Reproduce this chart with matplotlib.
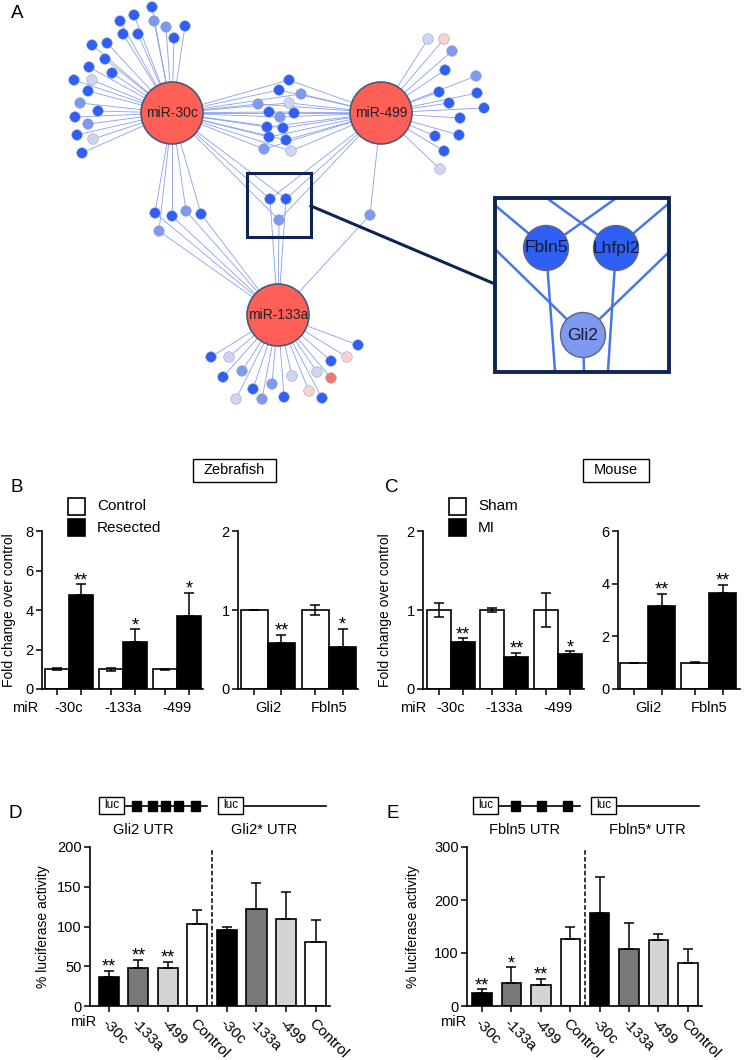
import matplotlib
matplotlib.use('Agg')
import matplotlib.pyplot as plt
from matplotlib.patches import Circle, Rectangle
import numpy as np

plt.rcParams['font.family'] = ['Liberation Sans', 'DejaVu Sans']

# ---------------- data ----------------
hub_names = ['miR-30c', 'miR-499', 'miR-133a']
hub_xy = [(172, 113), (381, 113), (278, 315)]

targets_30c = [(152, 7, 'd'), (134, 15, 'd'), (154, 21, 'm'), (120, 21, 'd'), (166, 27, 'm'),
               (185, 26, 'd'), (123, 34, 'd'), (138, 34, 'd'), (174, 38, 'd'), (92, 45, 'd'),
               (107, 43, 'd'), (105, 59, 'd'), (89, 67, 'd'), (112, 73, 'd'), (74, 80, 'd'),
               (92, 80, 'l'), (88, 91, 'd'), (80, 103, 'm'), (98, 111, 'd'), (75, 117, 'd'),
               (88, 124, 'm'), (77, 135, 'd'), (93, 139, 'l'), (82, 153, 'd')]
targets_30c_499 = [(289, 80, 'd'), (279, 90, 'd'), (301, 94, 'm'), (258, 104, 'm'), (289, 103, 'l'),
                   (269, 112, 'd'), (294, 113, 'd'), (280, 117, 'm'), (267, 127, 'd'), (283, 128, 'd'),
                   (269, 137, 'd'), (286, 140, 'd'), (264, 149, 'm'), (291, 151, 'l')]
targets_all = [(270, 199, 'd'), (286, 199, 'd'), (279, 220, 'm')]
targets_30c_133a = [(155, 213, 'd'), (172, 216, 'd'), (186, 211, 'm'), (201, 214, 'd'), (159, 231, 'm')]
targets_499_133a = [(370, 215, 'm')]
targets_499 = [(428, 39, 'l'), (444, 39, 'p'), (452, 51, 'm'), (445, 70, 'd'), (476, 76, 'm'),
               (439, 92, 'd'), (477, 93, 'd'), (449, 103, 'd'), (484, 108, 'd'), (460, 118, 'd'),
               (459, 135, 'd'), (435, 136, 'd'), (444, 151, 'd'), (440, 169, 'l')]
targets_133a = [(211, 357, 'd'), (229, 357, 'l'), (358, 345, 'd'), (347, 357, 'p'), (331, 361, 'd'),
                (242, 371, 'm'), (223, 377, 'd'), (272, 384, 'm'), (292, 376, 'l'), (317, 372, 'l'),
                (331, 378, 's'), (253, 389, 'd'), (236, 399, 'l'), (262, 399, 'm'), (284, 397, 'd'),
                (309, 391, 'p'), (322, 398, 'd')]

zoom_box = (247, 173, 311, 237)
inset_box = (495, 198, 669, 372)
inset_names = ['Fbln5', 'Lhfpl2', 'Gli2']
inset_xy = [(546, 248), (616, 248), (583, 335)]
inset_shade = ['d', 'd', 'm']
inset_edges = {0: [(497, 207), (615, 199), (555, 371)],
               1: [(548, 199), (668, 204), (608, 371)],
               2: [(497, 251), (668, 253), (584, 371)]}

# Panel B: zebrafish
b_mirs = ['-30c', '-133a', '-499']
b_ctrl = [1.0, 1.0, 1.0]
b_ctrl_err = [0.04, 0.07, 0.02]
b_res = [4.75, 2.38, 3.69]
b_res_err = [0.55, 0.64, 1.18]
b_mir_stars = ['**', '*', '*']
b_genes = ['Gli2', 'Fbln5']
b_gene_ctrl = [1.0, 1.0]
b_gene_ctrl_err = [0.005, 0.06]
b_gene_res = [0.586, 0.535]
b_gene_res_err = [0.094, 0.225]
b_gene_stars = ['**', '*']

# Panel C: mouse
c_mirs = ['-30c', '-133a', '-499']
c_sham = [1.0, 1.0, 1.0]
c_sham_err = [0.09, 0.02, 0.22]
c_mi = [0.60, 0.41, 0.44]
c_mi_err = [0.04, 0.05, 0.035]
c_mir_stars = ['**', '**', '*']
c_genes = ['Gli2', 'Fbln5']
c_gene_sham = [1.0, 1.0]
c_gene_sham_err = [0.0, 0.01]
c_gene_mi = [3.15, 3.63]
c_gene_mi_err = [0.45, 0.32]
c_gene_stars = ['**', '**']

# Panels D / E: luciferase
luc_labels = ['-30c', '-133a', '-499', 'Control', '-30c', '-133a', '-499', 'Control']
luc_colors = ['#000000', '#787878', '#d4d4d4', '#ffffff'] * 2
d_vals = [37, 48.4, 48, 103.5, 96, 122.5, 110, 80.5]
d_errs = [7, 9.6, 7, 17.5, 3, 32.5, 34, 28]
d_stars = ['**', '**', '**', '', '', '', '', '']
e_vals = [24, 42.8, 39.7, 126, 176, 107, 124, 80.6]
e_errs = [7.5, 30, 12, 24, 68, 50, 11, 26.4]
e_stars = ['**', '*', '**', '', '', '', '', '']
gli2_sites_x = [136, 152, 165, 178, 195]
fbln5_sites_x = [515.5, 541.5, 567.5]

# ---------------- figure ----------------
W, H = 752, 1060
fig = plt.figure(figsize=(W / 100, H / 100), dpi=100)
ov = fig.add_axes([0, 0, 1, 1])
ov.set_xlim(0, W)
ov.set_ylim(H, 0)
ov.axis('off')

shade = {'d': '#2f5ff5', 'm': '#7e99ef', 'l': '#cdd5ef', 'p': '#f6d3cd', 's': '#f2776d'}
edge_col = '#86a0ee'

groups = [(targets_30c, [0]), (targets_30c_499, [0, 1]), (targets_all, [0, 1, 2]),
          (targets_30c_133a, [0, 2]), (targets_499_133a, [1, 2]), (targets_499, [1]),
          (targets_133a, [2])]
for tl, hubs in groups:
    for (x, y, s) in tl:
        for h in hubs:
            hx, hy = hub_xy[h]
            ov.plot([hx, x], [hy, y], color=edge_col, lw=0.6, zorder=1)
for tl, hubs in groups:
    for (x, y, s) in tl:
        ov.add_patch(Circle((x, y), 5.3, facecolor=shade[s], edgecolor='#9aa6c6', lw=0.4, zorder=3))
for name, (hx, hy) in zip(hub_names, hub_xy):
    ov.add_patch(Circle((hx, hy), 31, facecolor='#fe5f57', edgecolor='#4b5874', lw=1.2, zorder=4))
    ov.text(hx, hy, name, ha='center', va='center', fontsize=10, color='#222222', zorder=5)

navy = '#0e2453'
zx0, zy0, zx1, zy1 = zoom_box
ov.add_patch(Rectangle((zx0, zy0), zx1 - zx0, zy1 - zy0, fill=False, edgecolor=navy, lw=2.2, zorder=6))
ix0, iy0, ix1, iy1 = inset_box
ov.plot([zx1, ix0], [206, 284], color=navy, lw=2.2, zorder=6)
for i, ends in inset_edges.items():
    cx, cy = inset_xy[i]
    for (ex, ey) in ends:
        ov.plot([cx, ex], [cy, ey], color='#4876ea', lw=1.8, zorder=6)
for name, (cx, cy), s in zip(inset_names, inset_xy, inset_shade):
    ov.add_patch(Circle((cx, cy), 22.5, facecolor=shade[s], edgecolor='#5d6680', lw=1.0, zorder=7))
    ov.text(cx, cy, name, ha='center', va='center', fontsize=12.5, color='#141a30', zorder=8)
ov.add_patch(Rectangle((ix0, iy0), ix1 - ix0, iy1 - iy0, fill=False, edgecolor=navy, lw=2.8, zorder=9))

# panel letters
for lab, (x, y) in zip('ABCDE', [(11, 13), (10, 488), (385, 488), (8, 813), (387, 813)]):
    ov.text(x, y, lab, ha='left', va='center', fontsize=13.5)

# species boxes
for txt, (x0, x1) in zip(['Zebrafish', 'Mouse'], [(193, 276), (583, 649)]):
    ov.add_patch(Rectangle((x0, 459), x1 - x0, 23, fill=False, edgecolor='black', lw=1.0))
    ov.text((x0 + x1) / 2, 470.5, txt, ha='center', va='center', fontsize=10.5)

# legends
for (lx, labels) in [(68, ['Control', 'Resected']), (449, ['Sham', 'MI'])]:
    for j, (lab, fc) in enumerate(zip(labels, ['white', 'black'])):
        y0 = 498 + 21 * j
        ov.add_patch(Rectangle((lx, y0), 17, 17, facecolor=fc, edgecolor='black', lw=1.2))
        ov.text(lx + 29, y0 + 8.5, lab, ha='left', va='center', fontsize=11)

# constructs
def construct(bx, x_end, sites, y=806):
    ov.add_patch(Rectangle((bx, 797), 25, 17, facecolor='white', edgecolor='black', lw=1.0, zorder=3))
    ov.text(bx + 12.5, 805.5, 'luc', ha='center', va='center', fontsize=8.5, zorder=4)
    ov.plot([bx + 25, x_end], [y, y], color='black', lw=1.2, zorder=2)
    for sx in sites:
        ov.add_patch(Rectangle((sx - 4.5, y - 5), 9, 10, facecolor='black', edgecolor='black', zorder=3))

construct(99, 207, gli2_sites_x)
construct(218, 326, [])
construct(473, 580, fbln5_sites_x)
construct(591, 699, [])
for txt, x in [('Gli2 UTR', 143), ('Gli2* UTR', 264), ('Fbln5 UTR', 525), ('Fbln5* UTR', 647)]:
    ov.text(x, 830, txt, ha='center', va='center', fontsize=10.5)

# miR labels
for x, y in [(25, 708), (413, 708), (83, 1022), (453, 1022)]:
    ov.text(x, y, 'miR', ha='center', va='center', fontsize=10.5)


def px_axes(x0, y0, x1, y1):
    ax = fig.add_axes([x0 / W, 1 - y1 / H, (x1 - x0) / W, (y1 - y0) / H])
    ax.set_facecolor('none')
    for sp in ['top', 'right']:
        ax.spines[sp].set_visible(False)
    for sp in ['left', 'bottom']:
        ax.spines[sp].set_linewidth(1.2)
    ax.tick_params(length=4, width=1.1, labelsize=10.5, pad=2)
    return ax


def star(ax, x, y, s):
    if s:
        ax.annotate(s, (x, y), xytext=(0, -0.5), textcoords='offset points',
                    ha='center', va='baseline', fontsize=13, annotation_clip=False)


def grouped(ax, cats, m1, e1, m2, e2, stars, w, xlim, ylim, yticks):
    x = np.arange(len(cats))
    ax.bar(x - w / 2, m1, w, color='white', edgecolor='black', lw=1.2, zorder=2)
    ax.bar(x + w / 2, m2, w, color='black', edgecolor='black', lw=1.2, zorder=2)
    ax.errorbar(x - w / 2, m1, yerr=e1, fmt='none', ecolor='black', elinewidth=1.1,
                capsize=3.5, capthick=1.1, zorder=3)
    ax.errorbar(x + w / 2, m2, yerr=[np.zeros(len(m2)), e2], fmt='none', ecolor='black',
                elinewidth=1.1, capsize=3.5, capthick=1.1, zorder=3)
    for xi, m, e, s in zip(x + w / 2, m2, e2, stars):
        star(ax, xi, m + e, s)
    ax.set_xlim(*xlim)
    ax.set_ylim(*ylim)
    ax.set_yticks(yticks)
    ax.set_xticks(np.concatenate([x - w / 2, x + w / 2]))
    ax.set_xticklabels([])
    for xi, c in zip(x, cats):
        ax.annotate(c, (xi, 0), xytext=(0, -14), textcoords='offset points',
                    ha='center', va='center', fontsize=10.5, annotation_clip=False)


axB1 = px_axes(42, 531, 203, 689)
grouped(axB1, b_mirs, b_ctrl, b_ctrl_err, b_res, b_res_err, b_mir_stars, 0.445,
        (-0.5, 2.48), (0, 8), [0, 2, 4, 6, 8])
axB1.set_ylabel('Fold change over control', fontsize=10)
axB1.yaxis.set_label_coords(-(42 - 16) / 161, 0.5)

axB2 = px_axes(238, 531, 358, 689)
grouped(axB2, b_genes, b_gene_ctrl, b_gene_ctrl_err, b_gene_res, b_gene_res_err, b_gene_stars,
        0.443, (-0.49, 1.475), (0, 2), [0, 1, 2])

axC1 = px_axes(423, 531, 584, 689)
grouped(axC1, c_mirs, c_sham, c_sham_err, c_mi, c_mi_err, c_mir_stars, 0.45,
        (-0.52, 2.49), (0, 2), [0, 1, 2])
axC1.set_ylabel('Fold change over control', fontsize=10)
axC1.yaxis.set_label_coords(-(423 - 392) / 161, 0.5)

axC2 = px_axes(618, 531, 740, 689)
grouped(axC2, c_genes, c_gene_sham, c_gene_sham_err, c_gene_mi, c_gene_mi_err, c_gene_stars,
        0.45, (-0.49, 1.51), (0, 6), [0, 2, 4, 6])


def luc(ax, vals, errs, stars, w, xlim, ylim, yticks):
    x = np.arange(len(vals))
    ax.bar(x, vals, w, color=luc_colors, edgecolor='black', lw=1.2, zorder=2)
    ax.errorbar(x, vals, yerr=[np.zeros(len(vals)), errs], fmt='none', ecolor='black',
                elinewidth=1.1, capsize=3.5, capthick=1.1, zorder=3)
    for xi, v, e, s in zip(x, vals, errs, stars):
        star(ax, xi, v + e, s)
    ax.axvline(3.5, ymin=0, ymax=0.98, color='black', ls=(0, (3, 1.5)), lw=1.1, zorder=1)
    ax.set_xlim(*xlim)
    ax.set_ylim(*ylim)
    ax.set_yticks(yticks)
    ax.set_xticks(x)
    ax.set_xticklabels(luc_labels, rotation=-45, ha='left', va='top', rotation_mode='anchor',
                       fontsize=11)
    ax.tick_params(axis='x', pad=3)
    ax.set_ylabel('% luciferase activity', fontsize=10)


axD = px_axes(90, 847, 330, 1006)
luc(axD, d_vals, d_errs, d_stars, 0.68, (-0.64, 7.49), (0, 200), [0, 50, 100, 150, 200])
axD.yaxis.set_label_coords(-(90 - 50) / 240, 0.5)

axE = px_axes(467, 847, 702, 1006)
luc(axE, e_vals, e_errs, e_stars, 0.66, (-0.51, 7.48), (0, 300), [0, 100, 200, 300])
axE.yaxis.set_label_coords(-(467 - 420) / 235, 0.5)

fig.savefig('out.png', dpi=100)
